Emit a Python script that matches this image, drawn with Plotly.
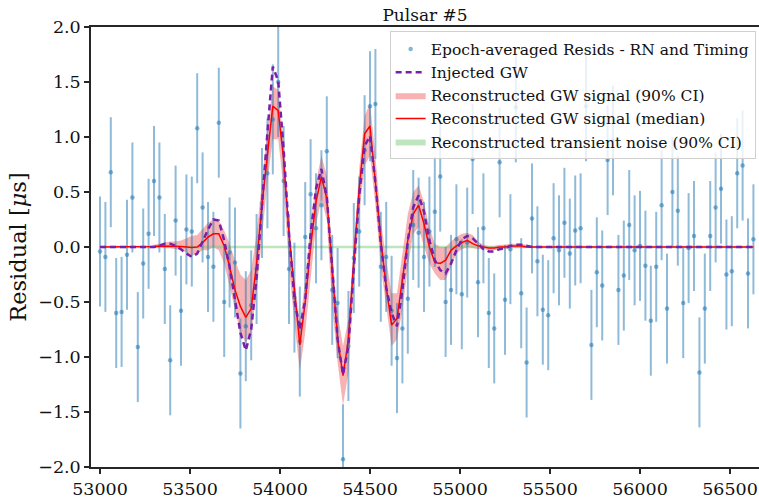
import plotly.graph_objects as go

# Epochs (MJD) of the epoch-averaged residuals
mjd = [53000, 53030, 53060, 53090, 53120, 53150, 53180, 53210, 53240, 53270,
       53300, 53330, 53360, 53390, 53420, 53450, 53480, 53510, 53540, 53570,
       53600, 53630, 53660, 53690, 53720, 53750, 53780, 53810, 53840, 53870,
       53900, 53930, 53960, 53990, 54020, 54050, 54080, 54110, 54140, 54170,
       54200, 54230, 54260, 54290, 54320, 54350, 54380, 54410, 54440, 54470,
       54500, 54530, 54560, 54590, 54620, 54650, 54680, 54710, 54740, 54770,
       54800, 54830, 54860, 54890, 54920, 54950, 54980, 55010, 55040, 55070,
       55100, 55130, 55160, 55190, 55220, 55250, 55280, 55310, 55340, 55370,
       55400, 55430, 55460, 55490, 55520, 55550, 55580, 55610, 55640, 55670,
       55700, 55730, 55760, 55790, 55820, 55850, 55880, 55910, 55940, 55970,
       56000, 56030, 56060, 56090, 56120, 56150, 56180, 56210, 56240, 56270,
       56300, 56330, 56360, 56390, 56420, 56450, 56480, 56510, 56540, 56570,
       56600, 56630]

# Epoch-averaged residuals [us]
resid = [-0.04, -0.09, 0.68, -0.60, -0.59, -0.07, 0.45, -0.91, -0.15, 0.12,
         0.60, 0.45, -0.20, -1.03, 0.24, -0.58, 0.16, 0.14, 1.08, 0.36,
         -0.09, -0.18, 1.13, -0.50, -0.05, -0.14, -1.15, -0.72, -0.53, -0.20,
         0.40, 0.67, 1.16, 1.50, 0.60, -0.20, -0.46, -0.86, 0.09, 0.48,
         0.17, 0.38, 0.87, -0.39, -0.51, -1.93, -0.90, -0.10, 0.14, 0.88,
         1.28, 1.30, -0.18, -0.09, -0.58, -1.01, -0.74, -0.47, 0.20, 0.13,
         -0.09, 0.14, 0.32, 0.64, -0.50, -0.39, 0.07, -0.43, 0.04, 0.80,
         -0.32, 0.17, -0.60, -0.74, 0.77, -0.48, -0.02, 1.27, -0.42, -1.05,
         0.26, -0.13, -0.57, -0.62, 0.08, -0.03, 0.22, -0.06, 0.15, 0.17,
         1.28, -0.89, -0.23, -0.35, 0.79, 0.97, -0.39, -0.26, 0.20, -0.03,
         0.01, -0.17, -0.67, -0.18, 0.38, -0.56, 0.50, 0.33, -0.51, -0.01,
         0.10, -1.14, -0.56, 0.10, 0.36, 0.53, -0.25, -0.22, 0.67, 0.74,
         -0.24, 0.07]

# Residual uncertainties [us]
resid_err = [0.5] * len(resid)

# Injected GW signal [us]
injected = [0.0, 0.0, 0.0, 0.0, 0.0, 0.0, 0.0, 0.0, 0.0, 0.0,
            0.0, 0.01, 0.03, 0.03, 0.01, -0.02, -0.06, -0.09, -0.06, 0.05,
            0.16, 0.25, 0.24, 0.06, -0.18, -0.48, -0.78, -0.94, -0.75, -0.27,
            0.41, 1.04, 1.64, 1.51, 0.89, 0.12, -0.48, -0.75, -0.48, 0.12,
            0.53, 0.71, 0.45, -0.20, -0.84, -1.16, -0.90, -0.18, 0.47, 0.92,
            1.01, 0.59, 0.03, -0.37, -0.60, -0.72, -0.39, 0.06, 0.36, 0.47,
            0.32, 0.06, -0.12, -0.21, -0.24, -0.15, -0.03, 0.07, 0.10, 0.08,
            0.03, -0.02, -0.04, -0.04, -0.02, -0.01, 0.01, 0.02, 0.02, 0.01,
            0.0, 0.0, 0.0, 0.0, 0.0, 0.0, 0.0, 0.0, 0.0, 0.0,
            0.0, 0.0, 0.0, 0.0, 0.0, 0.0, 0.0, 0.0, 0.0, 0.0,
            0.0, 0.0, 0.0, 0.0, 0.0, 0.0, 0.0, 0.0, 0.0, 0.0,
            0.0, 0.0, 0.0, 0.0, 0.0, 0.0, 0.0, 0.0, 0.0, 0.0,
            0.0, 0.0]

# Reconstructed GW signal: median and 90% CI bounds [us]
gw_median = [0.0, 0.0, 0.0, 0.0, 0.0, 0.0, 0.0, 0.0, 0.0, 0.0,
             0.005, 0.01, 0.01, 0.01, 0.01, 0.005, 0.0, -0.005, 0.0, 0.04,
             0.09, 0.12, 0.12, 0.01, -0.18, -0.39, -0.54, -0.64, -0.56, -0.15,
             0.39, 0.86, 1.28, 1.24, 0.80, 0.12, -0.42, -0.89, -0.50, 0.0,
             0.41, 0.64, 0.44, -0.22, -0.84, -1.17, -0.84, -0.12, 0.53, 1.03,
             1.10, 0.59, 0.06, -0.36, -0.71, -0.65, -0.30, 0.06, 0.30, 0.38,
             0.21, 0.0, -0.14, -0.15, -0.12, -0.03, 0.01, 0.04, 0.06, 0.03,
             0.01, 0.0, -0.01, -0.01, 0.0, 0.0, 0.01, 0.01, 0.01, 0.0,
             0.0, 0.0, 0.0, 0.0, 0.0, 0.0, 0.0, 0.0, 0.0, 0.0,
             0.0, 0.0, 0.0, 0.0, 0.0, 0.0, 0.0, 0.0, 0.0, 0.0,
             0.0, 0.0, 0.0, 0.0, 0.0, 0.0, 0.0, 0.0, 0.0, 0.0,
             0.0, 0.0, 0.0, 0.0, 0.0, 0.0, 0.0, 0.0, 0.0, 0.0,
             0.0, 0.0]

gw_upper = [0.0, 0.0, 0.0, 0.0, 0.0, 0.0, 0.0, 0.0, 0.0, 0.0,
            0.02, 0.03, 0.04, 0.05, 0.05, 0.06, 0.08, 0.10, 0.11, 0.17,
            0.22, 0.25, 0.24, 0.15, 0.03, -0.12, -0.25, -0.30, -0.21, 0.12,
            0.59, 1.07, 1.46, 1.43, 0.95, 0.24, -0.30, -0.69, -0.30, 0.20,
            0.59, 0.83, 0.65, -0.06, -0.60, -0.90, -0.66, 0.06, 0.71, 1.19,
            1.31, 0.83, 0.24, -0.12, -0.42, -0.42, -0.06, 0.30, 0.50, 0.56,
            0.41, 0.18, 0.03, 0.0, 0.0, 0.05, 0.09, 0.12, 0.13, 0.11,
            0.05, 0.02, 0.01, 0.01, 0.02, 0.02, 0.03, 0.03, 0.03, 0.02,
            0.01, 0.0, 0.0, 0.0, 0.0, 0.0, 0.0, 0.0, 0.0, 0.0,
            0.0, 0.0, 0.0, 0.0, 0.0, 0.0, 0.0, 0.0, 0.0, 0.0,
            0.0, 0.0, 0.0, 0.0, 0.0, 0.0, 0.0, 0.0, 0.0, 0.0,
            0.0, 0.0, 0.0, 0.0, 0.0, 0.0, 0.0, 0.0, 0.0, 0.0,
            0.0, 0.0]

gw_lower = [0.0, 0.0, 0.0, 0.0, 0.0, 0.0, 0.0, 0.0, 0.0, 0.0,
            -0.01, -0.01, -0.01, -0.01, -0.02, -0.03, -0.05, -0.08, -0.06, -0.03,
            -0.03, 0.0, -0.03, -0.15, -0.36, -0.57, -0.78, -0.87, -0.78, -0.42,
            0.12, 0.59, 0.98, 0.98, 0.53, -0.18, -0.69, -1.13, -0.78, -0.27,
            0.20, 0.44, 0.24, -0.54, -1.05, -1.44, -1.14, -0.36, 0.30, 0.74,
            0.83, 0.38, -0.18, -0.54, -0.90, -0.84, -0.57, -0.18, 0.12, 0.18,
            0.0, -0.15, -0.24, -0.30, -0.30, -0.18, -0.06, -0.02, 0.0, -0.01,
            -0.02, -0.02, -0.03, -0.03, -0.02, -0.02, -0.01, -0.01, -0.01, -0.01,
            -0.01, 0.0, 0.0, 0.0, 0.0, 0.0, 0.0, 0.0, 0.0, 0.0,
            0.0, 0.0, 0.0, 0.0, 0.0, 0.0, 0.0, 0.0, 0.0, 0.0,
            0.0, 0.0, 0.0, 0.0, 0.0, 0.0, 0.0, 0.0, 0.0, 0.0,
            0.0, 0.0, 0.0, 0.0, 0.0, 0.0, 0.0, 0.0, 0.0, 0.0,
            0.0, 0.0]

# Reconstructed transient noise 90% CI [us] (flat, very narrow)
noise_upper = [0.012] * len(mjd)
noise_lower = [-0.012] * len(mjd)

FONT = "DejaVu Serif"
INK = "#262626"

fig = go.Figure()

# Reconstructed GW 90% CI band
fig.add_trace(go.Scatter(x=mjd, y=gw_lower, mode="lines", line=dict(width=0),
                         showlegend=False, hoverinfo="skip"))
fig.add_trace(go.Scatter(x=mjd, y=gw_upper, mode="lines", line=dict(width=0),
                         fill="tonexty", fillcolor="rgba(235,75,75,0.42)",
                         name="Reconstructed GW signal (90% CI)", legendrank=3))

# Transient noise 90% CI band
fig.add_trace(go.Scatter(x=mjd, y=noise_lower, mode="lines", line=dict(width=0),
                         showlegend=False, hoverinfo="skip"))
fig.add_trace(go.Scatter(x=mjd, y=noise_upper, mode="lines", line=dict(width=0),
                         fill="tonexty", fillcolor="rgba(110,200,110,0.45)",
                         name="Reconstructed transient noise (90% CI)", legendrank=5))

# Residuals with error bars
fig.add_trace(go.Scatter(x=mjd, y=resid, mode="markers",
                         marker=dict(size=4.5, color="rgba(31,119,180,0.55)"),
                         error_y=dict(type="data", array=resid_err, visible=True,
                                      thickness=2, width=0,
                                      color="rgba(31,119,180,0.5)"),
                         name="Epoch-averaged Resids - RN and Timing", legendrank=1))

# Reconstructed median
fig.add_trace(go.Scatter(x=mjd, y=gw_median, mode="lines",
                         line=dict(color="red", width=1.5),
                         name="Reconstructed GW signal (median)", legendrank=4))

# Injected GW
fig.add_trace(go.Scatter(x=mjd, y=injected, mode="lines",
                         line=dict(color="#7a1fa8", width=2.5, dash="6px,4px"),
                         name="Injected GW", legendrank=2))

fig.update_layout(
    width=759, height=499,
    margin=dict(l=91, r=0, t=27, b=27),
    paper_bgcolor="white", plot_bgcolor="white",
    font=dict(family=FONT, color=INK, size=16),
    title=dict(text="Pulsar #5", x=0.56, xanchor="center", y=0.97, yanchor="middle",
               yref="container", font=dict(family=FONT, size=17, color="#111")),
    legend=dict(x=0.995, y=0.99, xanchor="right", yanchor="top",
                traceorder="normal",
                bgcolor="rgba(255,255,255,0.8)", bordercolor="#d0d0d0", borderwidth=1,
                font=dict(family=FONT, size=15.5, color="#111"),
                itemwidth=30, tracegroupgap=0),
    showlegend=True,
)

fig.update_xaxes(range=[52950, 56661], tickmode="array",
                 tickvals=[53000, 53500, 54000, 54500, 55000, 55500, 56000, 56500],
                 tickformat="d", showgrid=False, zeroline=False,
                 showline=True, linecolor=INK, linewidth=1.5, mirror=True,
                 ticks="outside", ticklen=5, tickwidth=1.5, tickcolor=INK,
                 tickfont=dict(family=FONT, size=17.5, color="#111"))
fig.update_yaxes(range=[-2, 2], tickmode="array",
                 tickvals=[-2.0, -1.5, -1.0, -0.5, 0.0, 0.5, 1.0, 1.5, 2.0],
                 tickformat=".1f", showgrid=False, zeroline=False,
                 showline=True, linecolor=INK, linewidth=1.5, mirror=False,
                 ticks="outside", ticklen=5, tickwidth=1.5, tickcolor=INK,
                 tickfont=dict(family=FONT, size=17.5, color="#111"),
                 title=dict(text="Residual [<i>μ</i>s]", standoff=5,
                            font=dict(family=FONT, size=22.5, color="#111")))

fig.write_html("out.html")
